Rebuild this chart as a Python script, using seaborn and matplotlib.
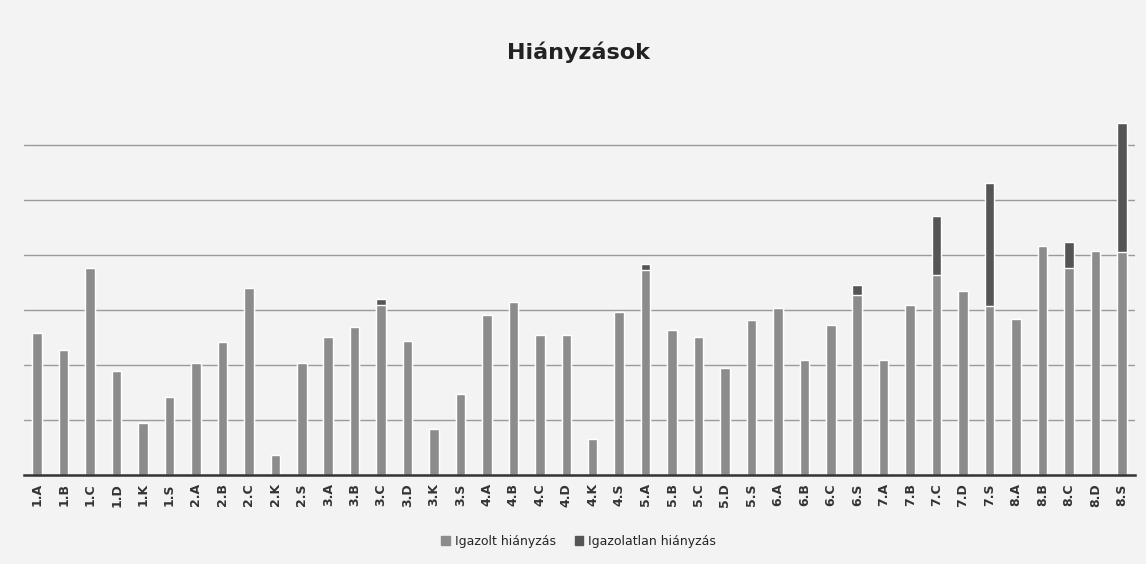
import matplotlib
matplotlib.use("Agg")
import matplotlib.pyplot as plt
import seaborn as sns
from matplotlib.patches import Patch

osztalyok = ["1.A", "1.B", "1.C", "1.D", "1.K", "1.S",
             "2.A", "2.B", "2.C", "2.K", "2.S",
             "3.A", "3.B", "3.C", "3.D", "3.K", "3.S",
             "4.A", "4.B", "4.C", "4.D", "4.K", "4.S",
             "5.A", "5.B", "5.C", "5.D", "5.S",
             "6.A", "6.B", "6.C", "6.S",
             "7.A", "7.B", "7.C", "7.D", "7.S",
             "8.A", "8.B", "8.C", "8.D", "8.S"]

igazolt = [25.8, 22.7, 37.6, 18.9, 9.5, 14.2,
           20.4, 24.2, 34.0, 3.6, 20.4,
           25.1, 26.9, 30.9, 24.4, 8.4, 14.7,
           29.1, 31.5, 25.5, 25.5, 6.5, 29.6,
           37.3, 26.4, 25.1, 19.5, 28.2,
           30.4, 20.9, 27.3, 32.7,
           20.9, 30.9, 36.4, 33.5, 30.7,
           28.4, 41.6, 37.6, 40.7, 40.5]

igazolatlan = [0, 0, 0, 0, 0, 0,
               0, 0, 0, 0, 0,
               0, 0, 1.1, 0, 0, 0,
               0, 0, 0, 0, 0, 0,
               1.1, 0, 0, 0, 0,
               0, 0, 0, 1.8,
               0, 0, 10.7, 0, 22.4,
               0, 0, 4.7, 0, 23.5]

osszes = [a + b for a, b in zip(igazolt, igazolatlan)]

vilagos = "#8c8c8c"
sotet = "#555555"
hatter = "#f3f3f3"

sns.set_style("white")
fig = plt.figure(figsize=(11.46, 5.64), dpi=100, facecolor=hatter)
ax = fig.add_axes([24 / 1146, 1 - 475 / 564, 1111 / 1146, 385 / 564])
ax.set_facecolor(hatter)

# stacked: total in dark first, justified part drawn over it
sns.barplot(x=osztalyok, y=osszes, color=sotet, width=0.36, saturation=1, ax=ax)
sns.barplot(x=osztalyok, y=igazolt, color=vilagos, width=0.36, saturation=1, ax=ax)

ax.set_ylim(0, 70)
ax.set_yticks(range(10, 70, 10))
ax.yaxis.grid(True, color="#9a9a9a", linewidth=1.0)
ax.set_axisbelow(True)
ax.tick_params(axis="y", left=False, labelleft=False)
ax.tick_params(axis="x", length=0, pad=6)
for lab in ax.get_xticklabels():
    lab.set_rotation(90)
    lab.set_fontweight("bold")
    lab.set_fontsize(9)
    lab.set_color("#333333")
for s in ["top", "right", "left"]:
    ax.spines[s].set_visible(False)
ax.spines["bottom"].set_color("#333333")
ax.spines["bottom"].set_linewidth(1.8)

fig.text(0.505, 1 - 52 / 564, "Hiányzások", ha="center", va="center",
         fontsize=16, fontweight="bold", color="#222222")

handles = [Patch(color=vilagos, label="Igazolt hiányzás"),
           Patch(color=sotet, label="Igazolatlan hiányzás")]
fig.legend(handles=handles, loc="center", bbox_to_anchor=(0.505, 1 - 541 / 564),
           ncol=2, frameon=False, fontsize=9, handlelength=0.7, handleheight=0.7,
           columnspacing=1.5, handletextpad=0.4)

fig.savefig("out.png", dpi=100, facecolor=hatter)
